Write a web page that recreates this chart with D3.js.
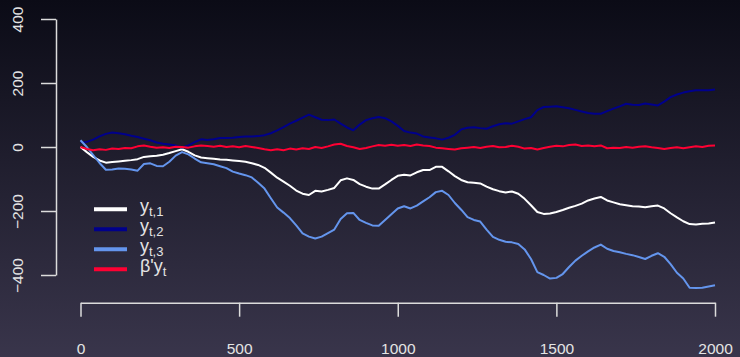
<!DOCTYPE html>
<html>
<head>
<meta charset="utf-8">
<script src="https://cdn.jsdelivr.net/npm/d3@7"></script>
<style>
  html, body { margin: 0; padding: 0; background: #0c0c17; }
  svg { display: block; }
</style>
</head>
<body>
<svg id="chart" width="740" height="357"></svg>
<script>
// Time index: every 20th step of the 2000-step simulation
const times = d3.range(0, 2001, 20);

// y_{t,1}
const y1 = [0, -16, -31, -42, -49, -47, -45, -43, -41, -38,
  -31, -29, -27, -24, -19, -13, -7, -15, -26, -33,
  -35, -37, -39, -40, -42, -44, -46, -51, -56, -65,
  -80, -96, -108, -121, -136, -146, -150, -137, -139, -134,
  -128, -104, -98, -103, -116, -124, -130, -130, -117, -103,
  -90, -87, -89, -79, -72, -72, -62, -62, -76, -91,
  -103, -110, -112, -114, -124, -132, -138, -142, -139, -146,
  -162, -182, -203, -209, -208, -203, -197, -190, -184, -177,
  -167, -161, -156, -167, -173, -179, -182, -185, -186, -188,
  -185, -183, -192, -207, -220, -232, -241, -242, -240, -239, -236];

// y_{t,2}
const y2 = [15, 16, 23, 33, 41, 45, 43, 40, 35, 31,
  26, 21, 14, 10, 8, 5, -2, 5, 15, 24,
  22, 24, 28, 28, 29, 31, 33, 33, 34, 37,
  43, 52, 62, 73, 82, 92, 101, 93, 85, 84,
  86, 73, 61, 52, 70, 84, 90, 94, 90, 80,
  66, 50, 45, 42, 33, 30, 27, 23, 29, 38,
  55, 60, 62, 59, 57, 65, 71, 74, 73, 80,
  87, 93, 115, 125, 126, 127, 124, 121, 116, 111,
  106, 104, 104, 112, 120, 127, 135, 132, 131, 136,
  133, 130, 142, 156, 164, 170, 174, 177, 177, 177, 180];

// y_{t,3}
const y3 = [21, 0, -25, -50, -71, -70, -67, -68, -70, -74,
  -53, -51, -59, -60, -46, -27, -16, -23, -36, -48,
  -51, -54, -60, -66, -77, -83, -88, -95, -112, -130,
  -160, -189, -205, -222, -245, -270, -280, -286, -280, -269,
  -258, -225, -207, -206, -228, -237, -245, -246, -228, -210,
  -192, -185, -192, -183, -170, -157, -141, -137, -150, -175,
  -196, -219, -228, -233, -258, -281, -290, -296, -298, -303,
  -320, -350, -391, -400, -411, -409, -397, -375, -355, -340,
  -326, -314, -305, -318, -325, -329, -334, -338, -344, -350,
  -340, -332, -343, -366, -393, -411, -440, -441, -440, -436, -432];

// beta' y_t
const beta = [0, -6, -10, -7, -9, -5, -6, -3, -4, 2,
  5, 1, -2, -1, -3, 1, 0, -2, 2, 5,
  3, 1, 4, 0, 2, -1, 3, 0, -3, -7,
  -10, -7, -10, -5, -8, -4, -6, 0, -3, 2,
  8, 10, 3, -1, -6, -3, 2, 6, 4, 7,
  4, 6, 3, 8, 5, 3, -2, -4, -6, -8,
  -4, -2, 0, -3, 1, 3, -1, 0, 4, 1,
  -5, -3, -8, -3, 1, 4, 2, 6, 8, 3,
  5, 2, 5, -4, -2, -3, 0, -2, 1, 2,
  -1, -3, -6, -3, -1, -4, -1, 2, 0, 4, 5];

const xTicks = [0, 500, 1000, 1500, 2000];
const yTicks = [-400, -200, 0, 200, 400];

const seriesNames = ["y1", "y2", "y3", "beta"];
const seriesColors = ["#ffffff", "#00008b", "#6495ed", "#ff0033"];
const seriesValues = [y1, y2, y3, beta];

const svg = d3.select("#chart");
const W = 740, H = 357;

// background gradient
const defs = svg.append("defs");
const grad = defs.append("linearGradient")
  .attr("id", "bg").attr("x1", 0).attr("y1", 0).attr("x2", 0).attr("y2", 1);
grad.append("stop").attr("offset", "0%").attr("stop-color", "#0b0b16");
grad.append("stop").attr("offset", "100%").attr("stop-color", "#39354b");
svg.append("rect").attr("width", W).attr("height", H).attr("fill", "url(#bg)");

const x = d3.scaleLinear().domain([0, 2000]).range([80.5, 715]);
const y = d3.scaleLinear().domain([-400, 400]).range([275, 19]);

const axisColor = "#dcdcdc";
const labelColor = "#e4e4e4";
const font = "'Liberation Sans', Arial, sans-serif";

// y axis
const gy = svg.append("g")
  .attr("transform", "translate(56,0)")
  .call(d3.axisLeft(y).tickValues(yTicks).tickSize(15).tickSizeOuter(0).tickFormat(d3.format("d")));
gy.select(".domain").attr("stroke", axisColor).attr("stroke-width", 1.5);
gy.selectAll(".tick line").attr("stroke", axisColor).attr("stroke-width", 1.5);
gy.selectAll(".tick text")
  .attr("transform", "rotate(-90)")
  .attr("x", 0).attr("y", -33.5).attr("dy", 0)
  .attr("text-anchor", "middle")
  .attr("fill", labelColor)
  .style("font-family", font).style("font-size", "15.5px");

// x axis
const gx = svg.append("g")
  .attr("transform", "translate(0,302.7)")
  .call(d3.axisBottom(x).tickValues(xTicks).tickSize(14).tickSizeOuter(0).tickFormat(d3.format("d")));
gx.select(".domain").attr("stroke", axisColor).attr("stroke-width", 1.5);
gx.selectAll(".tick line").attr("stroke", axisColor).attr("stroke-width", 1.5);
gx.selectAll(".tick text")
  .attr("y", 51.5).attr("dy", 0)
  .attr("fill", labelColor)
  .style("font-family", font).style("font-size", "15.5px");

// series lines
const line = d3.line()
  .x((d, i) => x(times[i]))
  .y(d => y(d));

seriesValues.forEach((vals, k) => {
  svg.append("path")
    .datum(vals)
    .attr("class", "series " + seriesNames[k])
    .attr("fill", "none")
    .attr("stroke", seriesColors[k])
    .attr("stroke-width", 2)
    .attr("stroke-linejoin", "round")
    .attr("d", line);
});

// legend
const legend = svg.append("g").attr("class", "legend");
const legendMain = ["y", "y", "y", "β'y"];
const legendSub = ["t,1", "t,2", "t,3", "t"];
legendMain.forEach((m, k) => {
  const cy = 209.3 + k * 20;
  legend.append("line")
    .attr("x1", 94).attr("x2", 127)
    .attr("y1", cy).attr("y2", cy)
    .attr("stroke", seriesColors[k]).attr("stroke-width", 4);
  const t = legend.append("text")
    .attr("x", 140).attr("y", cy + 2.5)
    .attr("fill", labelColor)
    .style("font-family", font).style("font-size", "18px");
  t.append("tspan").text(m);
  t.append("tspan").attr("dy", 4.5).style("font-size", "13px").text(legendSub[k]);
});
</script>
</body>
</html>
